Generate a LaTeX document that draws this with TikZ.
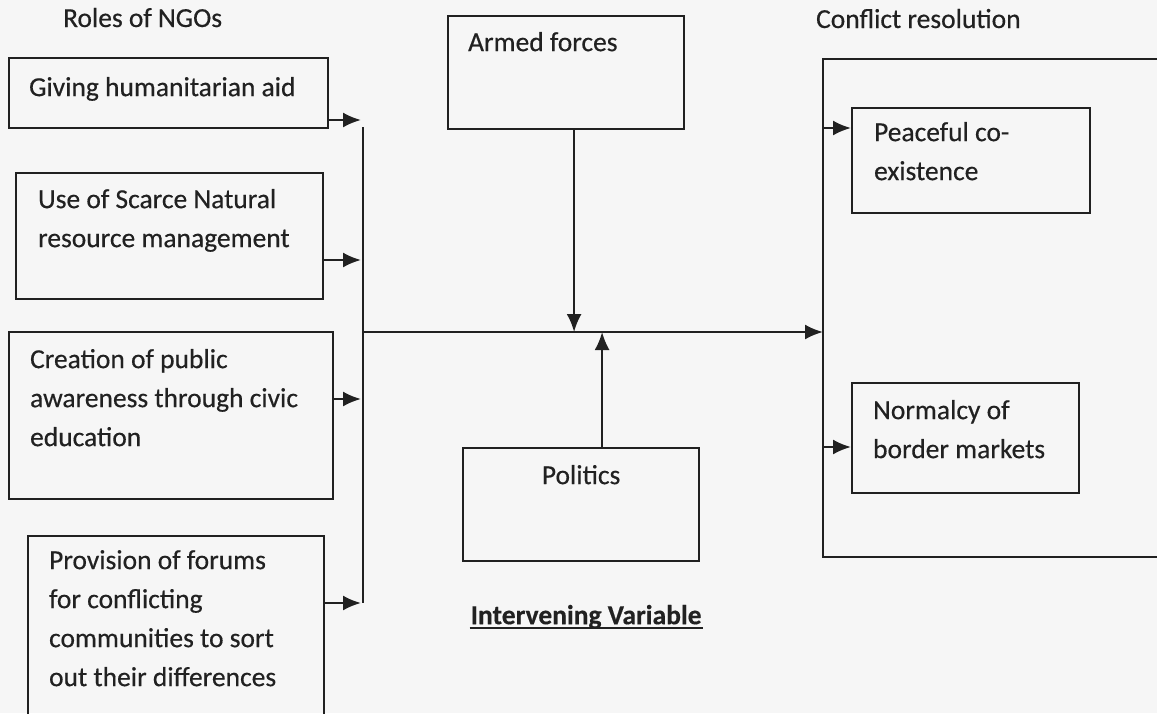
\documentclass[tikz,border=0pt]{standalone}
\usepackage{fontspec}
\setmainfont{Carlito}[FakeBold=0.4,BoldFeatures={FakeBold=0.4}]
\usepackage{tikz}
\usetikzlibrary{arrows.meta,positioning}

\definecolor{paper}{gray}{0.965}
\definecolor{ink}{gray}{0.13}

\tikzset{
  box/.style={draw=ink, anchor=north west, inner sep=0pt, align=flush left},
  title/.style={anchor=base west, inner sep=0pt},
}

\begin{document}
\begin{tikzpicture}[x=1pt,y=-1pt,>={Latex[length=18pt,width=15pt]},line width=2.2pt,color=ink,
    font=\fontsize{27.5pt}{39pt}\selectfont]

  \useasboundingbox (0,0) rectangle (1157,713);
  \clip (0,0) rectangle (1157,713);
  \fill[paper] (0,0) rectangle (1157,713);

  \node[title]	(ngos)	at (62,27)	{Roles of NGOs};
  \node[title]	(cres)	at (815,28)	{Conflict resolution};

  \node[box, minimum width=319pt, text width=279pt, text height=38pt, text depth=32pt]
    (aid)	at (8,57)	{Giving humanitarian aid};
  \node[box, minimum width=307pt, text width=263pt, text height=35pt, text depth=91pt]
    (scarce)	at (15,172)	{Use of Scarce Natural\\resource management};
  \node[box, minimum width=324pt, text width=282pt, text height=36pt, text depth=131pt]
    (civic)	at (8,331)	{Creation of public\\awareness through civic\\education};
  \node[box, minimum width=296pt, text width=254pt, text height=33pt, text depth=200pt]
    (forums)	at (27,535)	{Provision of forums\\for conflicting\\communities to sort\\out their differences};

  \node[box, minimum width=236pt, text width=196pt, text height=35pt, text depth=78pt]
    (armed)	at (447,15)	{Armed forces};
  \node[box, align=center, minimum width=236pt, text width=236pt, text height=36pt, text depth=77pt]
    (politics)	at (462,447)	{Politics};
  \node[inner sep=0pt, font=\fontsize{27.5pt}{39pt}\selectfont\bfseries]
    (iv)	[below=62pt of politics, anchor=base, xshift=5pt]	{Intervening Variable};

  \node[box, minimum width=238pt, text width=194pt, text height=33pt, text depth=72pt]
    (peace)	at (851,107)	{Peaceful co-\\existence};
  \node[box, minimum width=227pt, text width=185pt, text height=36pt, text depth=74pt]
    (normal)	at (851,382)	{Normalcy of\\border markets};

  \coordinate (bus top)	at (363,127);
  \coordinate (bus bot)	at (363,603);
  \coordinate (hub)	at (363,332);
  \coordinate (in1)	at (361,120);
  \coordinate (in2)	at (361,260);
  \coordinate (in3)	at (361,399);
  \coordinate (in4)	at (361,603);
  \coordinate (r top)	at (823,59);
  \coordinate (r bot)	at (823,557);
  \coordinate (r top end)	at (1157,59);
  \coordinate (r bot end)	at (1157,557);
  \coordinate (out1)	at (823,128);
  \coordinate (out2)	at (823,447);

  \draw ([yshift=-4pt]iv.base west) -- ([yshift=-4pt]iv.base east);
  \draw (bus top) -- (bus bot);
  \draw (r top end) -- (r top) -- (r bot) -- (r bot end);

  \path [->]
        (aid.east |- in1)	edge (in1)
        (scarce.east |- in2)	edge (in2)
        (civic.east |- in3)	edge (in3)
        (forums.east |- in4)	edge (in4)
        (hub)	edge (hub -| r top)
        ([xshift=8pt]armed.south)	edge ([xshift=8pt]armed.south |- hub)
        ([xshift=21pt]politics.north)	edge ([xshift=21pt]politics.north |- hub)
        (out1)	edge (out1 -| peace.west)
        (out2)	edge (out2 -| normal.west);
\end{tikzpicture}
\end{document}
